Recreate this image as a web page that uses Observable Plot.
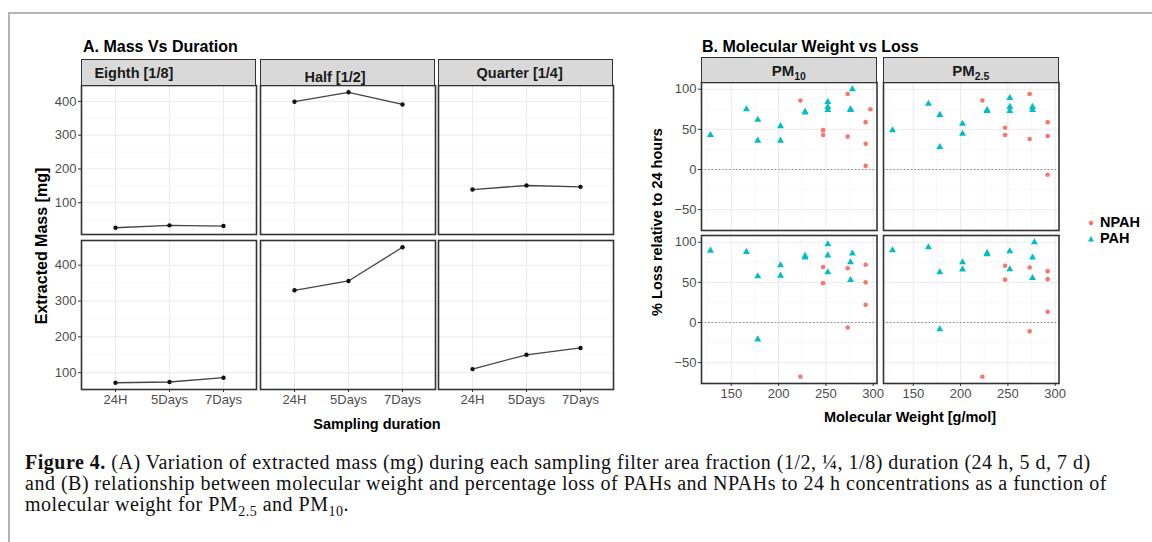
<!DOCTYPE html>
<html>
<head>
<meta charset="utf-8">
<script src="https://cdn.jsdelivr.net/npm/d3@7"></script>
<script src="https://cdn.jsdelivr.net/npm/@observablehq/plot@0.6"></script>
<style>
  html, body { margin: 0; padding: 0; background: #fff; }
  #root { position: relative; width: 1152px; height: 542px; overflow: hidden; background: #fff;
          font-family: "Liberation Sans", Arial, sans-serif; }
  .abs { position: absolute; white-space: nowrap; }
  .title { font-weight: bold; font-size: 16px; color: #000; }
  .strip { position: absolute; box-sizing: border-box; background: #d9d9d9; border: 1.5px solid #333;
           font-weight: bold; font-size: 14.5px; color: #1a1a1a; }
  .strip span { position: absolute; transform: translate(-50%, -50%); white-space: nowrap; }
  .axtitle { font-weight: bold; font-size: 14.5px; color: #000; }
  .rot { transform: translate(-50%, -50%) rotate(-90deg); }
  .ctr { transform: translate(-50%, -50%); }
  .cap { font-family: "Liberation Serif", "Times New Roman", serif; font-size: 20px; letter-spacing: 0.5px;
         line-height: 21px; color: #111; }
  .cap sub { font-size: 70%; line-height: 0; }
  .strip sub { font-size: 70%; line-height: 0; }
  .cell { position: absolute; }
</style>
</head>
<body>
<div id="root"></div>
<script>
// ---------- Data: Panel A (extracted mass, mg) ----------
const durations = ["24H", "5Days", "7Days"];
const fractionLabels = ["Eighth [1/8]", "Half [1/2]", "Quarter [1/4]"];
const eighthRow1 = [26, 33, 31];
const halfRow1 = [399, 427, 391];
const quarterRow1 = [139, 151, 147];
const eighthRow2 = [72, 74, 86];
const halfRow2 = [330, 356, 450];
const quarterRow2 = [110, 150, 169];
const massTicksA = [100, 200, 300, 400];

// ---------- Data: Panel B (% loss relative to 24 h) ----------
const pmLabels = ["PM10", "PM2.5"];
const groups = ["NPAH", "PAH"];
const pahMW  = [128, 166, 178, 178, 202, 202, 228, 228, 252, 252, 252, 276, 276, 278];
const npahMW = [223, 247, 247, 273, 273, 292, 292, 292, 297];
const pahLossPM10Top     = [43, 75, 62, 36, 54, 36, 71, 72, 84, 78, 74, 75, 74, 100];
const npahLossPM10Top    = [86, 49, 43, 94, 41, 59, 32, 4.5, 75];
const pahLossPM25Top     = [49, 82, 68, 28, 57, 44.5, 73, 74, 89, 78, 73, 78, 74, null];
const npahLossPM25Top    = [86, 52, 43, 94, 38, 59, 41.6, -6.5, null];
const pahLossPM10Bottom  = [89.5, 88, 57.6, -21, 71.4, 58.4, 83, 81, 97.5, 83.6, 62.6, 75, 53, 86];
const npahLossPM10Bottom = [-67.6, 69, 49, 67.6, -6.3, 72, 50, 22, null];
const pahLossPM25Bottom  = [90, 93.7, 62.6, -8.4, 75, 66, 86.6, 85, 88.7, 66.4, null, 81, 55.5, 100];
const npahLossPM25Bottom = [-67.6, 70.6, 53.4, 68.5, -11, 64, 54, 13.4, null];
const mwTicks = [150, 200, 250, 300];
const mwMinor = [125, 175, 225, 275];
const lossTicks = [-50, 0, 50, 100];
const lossMinor = [-75, -25, 25, 75];

const colors = {NPAH: "#F8766D", PAH: "#00BFC4"};

// ---------- helpers ----------
const root = document.getElementById("root");
function addDiv(cls, html, style) {
  const d = document.createElement("div");
  d.className = cls;
  d.innerHTML = html;
  Object.assign(d.style, style);
  root.appendChild(d);
  return d;
}
function expand(ext, f = 0.05) {
  const r = ext[1] - ext[0];
  return [ext[0] - r * f, ext[1] + r * f];
}
const tickFont = {fontSize: 13, fill: "#4d4d4d"};

function cell({left, top, w, h, showY, showX, x, y, marks, yTicks, xTicks}) {
  const mL = showY ? 50 : 0, mB = showX ? 26 : 0;
  const allMarks = [...marks, Plot.frame({stroke: "#333", strokeWidth: 1.6})];
  if (showY) allMarks.push(Plot.axisY({ticks: yTicks, tickSize: 3, tickPadding: 2, stroke: "#333", ...tickFont, label: null}));
  if (showX) allMarks.push(Plot.axisX({ticks: xTicks, tickSize: 3, tickPadding: 2, stroke: "#333", ...tickFont, label: null}));
  const p = Plot.plot({
    width: w + mL, height: h + mB,
    marginLeft: mL, marginRight: 0, marginTop: 0, marginBottom: mB,
    x: {...x, axis: null}, y: {...y, axis: null},
    style: {background: "transparent", overflow: "visible", fontFamily: "'Liberation Sans', Arial, sans-serif"},
    marks: allMarks
  });
  const holder = document.createElement("div");
  holder.className = "cell";
  holder.style.left = (left - mL) + "px";
  holder.style.top = top + "px";
  holder.appendChild(p);
  root.appendChild(holder);
}

// frame
addDiv("abs", "", {left: "8px", top: "12px", width: "1160px", height: "540px",
  borderLeft: "2px solid #b4b4b4", borderTop: "2px solid #b4b4b4"});

// ---------- Panel A ----------
addDiv("abs title", "A. Mass Vs Duration", {left: "83px", top: "38px"});
const colLeftA = [81, 259.5, 438];
const wA = 175;
const rowTopA = [85, 240];
const hA = 149;
const stripTextA = [{dx: 0.30, y: 13}, {dx: 0.431, y: 17}, {dx: 0.466, y: 13}];
const rowsA = [[eighthRow1, halfRow1, quarterRow1], [eighthRow2, halfRow2, quarterRow2]];
rowsA.forEach((row, ri) => {
  const all = row.flat();
  const dom = expand(d3.extent(all));
  const minor = d3.range(50, 500, 100).filter(v => v > dom[0] && v < dom[1]);
  row.forEach((vals, ci) => {
    const data = durations.map((d, i) => ({duration: d, mass: vals[i]}));
    cell({
      left: colLeftA[ci], top: rowTopA[ri], w: wA, h: hA,
      showY: ci === 0, showX: ri === 1,
      x: {type: "point", domain: durations, padding: 0.6},
      y: {domain: dom},
      yTicks: massTicksA, xTicks: durations,
      marks: [
        Plot.gridY(minor, {stroke: "#f0f0f0", strokeOpacity: 1, strokeWidth: 0.6}),
        Plot.gridY(massTicksA, {stroke: "#ebebeb", strokeOpacity: 1, strokeWidth: 1}),
        Plot.gridX(durations, {stroke: "#ebebeb", strokeOpacity: 1, strokeWidth: 1}),
        Plot.line(data, {x: "duration", y: "mass", stroke: "#444", strokeWidth: 1.3}),
        Plot.dot(data, {x: "duration", y: "mass", fill: "#111", r: 2.2})
      ]
    });
  });
});
fractionLabels.forEach((lab, ci) => {
  addDiv("strip", `<span style="left:${stripTextA[ci].dx * 100}%;top:${stripTextA[ci].y}px">${lab}</span>`,
    {left: colLeftA[ci] + "px", top: "59px", width: wA + "px", height: "27px"});
});
addDiv("abs axtitle rot", "Extracted Mass [mg]", {left: "42px", top: "246px", fontSize: "16px"});
addDiv("abs axtitle ctr", "Sampling duration", {left: "377px", top: "424px"});

// ---------- Panel B ----------
addDiv("abs title", "B. Molecular Weight vs Loss", {left: "702px", top: "38px"});
const colLeftB = [701, 883];
const wB = 175.5;
const rowTopB = [82, 235];
const hB = 148;
const panelsB = [
  [[pahLossPM10Top, npahLossPM10Top], [pahLossPM25Top, npahLossPM25Top]],
  [[pahLossPM10Bottom, npahLossPM10Bottom], [pahLossPM25Bottom, npahLossPM25Bottom]]
];
const allLoss = panelsB.flat(2).flat().filter(v => v != null);
const lossDomain = expand(d3.extent(allLoss));
const mwDomain = [118.5, 304];
panelsB.forEach((row, ri) => {
  row.forEach(([pahVals, npahVals], ci) => {
    const data = [
      ...npahMW.map((mw, i) => ({mw, loss: npahVals[i], group: "NPAH"})),
      ...pahMW.map((mw, i) => ({mw, loss: pahVals[i], group: "PAH"}))
    ].filter(d => d.loss != null);
    cell({
      left: colLeftB[ci], top: rowTopB[ri], w: wB, h: hB,
      showY: ci === 0, showX: ri === 1,
      x: {domain: mwDomain},
      y: {domain: lossDomain},
      yTicks: lossTicks, xTicks: mwTicks,
      marks: [
        Plot.gridX(mwMinor, {stroke: "#f2f2f2", strokeOpacity: 1, strokeWidth: 0.6}),
        Plot.gridY(lossMinor.filter(v => v > lossDomain[0]), {stroke: "#f2f2f2", strokeOpacity: 1, strokeWidth: 0.6}),
        Plot.gridX(mwTicks, {stroke: "#ebebeb", strokeOpacity: 1, strokeWidth: 1}),
        Plot.gridY(lossTicks, {stroke: "#ebebeb", strokeOpacity: 1, strokeWidth: 1}),
        Plot.ruleY([0], {stroke: "#8c8c8c", strokeWidth: 1, strokeDasharray: "1.5,2"}),
        Plot.dot(data.filter(d => d.group === "NPAH"), {x: "mw", y: "loss", r: 2.3, fill: colors.NPAH, stroke: null, symbol: "circle"}),
        Plot.dot(data.filter(d => d.group === "PAH"), {x: "mw", y: "loss", r: 2.6, fill: colors.PAH, stroke: null, symbol: "triangle"})
      ]
    });
  });
});
addDiv("strip", `<span style="left:50%;top:12px">PM<sub>10</sub></span>`,
  {left: colLeftB[0] + "px", top: "57px", width: wB + "px", height: "26px", fontSize: "15px"});
addDiv("strip", `<span style="left:50%;top:12px">PM<sub>2.5</sub></span>`,
  {left: colLeftB[1] + "px", top: "57px", width: wB + "px", height: "26px", fontSize: "15px"});
addDiv("abs axtitle rot", "% Loss relative to 24 hours", {left: "657px", top: "222px"});
addDiv("abs axtitle ctr", "Molecular Weight [g/mol]", {left: "910px", top: "417px"});

// legend
const legendSyms = {
  NPAH: `<svg width="10" height="10" style="position:absolute;left:-14px;top:4px"><circle cx="5" cy="5" r="2.3" fill="${colors.NPAH}"/></svg>`,
  PAH: `<svg width="10" height="10" style="position:absolute;left:-14px;top:4px"><path d="M5,2 L8,7.5 L2,7.5 Z" fill="${colors.PAH}"/></svg>`
};
groups.forEach((g, i) => {
  addDiv("abs axtitle", legendSyms[g] + g, {left: "1100px", top: (214 + i * 16) + "px"});
});

// ---------- Caption ----------
addDiv("abs cap",
  `<b>Figure 4.</b> (A) Variation of extracted mass (mg) during each sampling filter area fraction (1/2, ¼, 1/8) duration (24 h, 5 d, 7 d)<br>` +
  `and (B) relationship between molecular weight and percentage loss of PAHs and NPAHs to 24 h concentrations as a function of<br>` +
  `molecular weight for PM<sub>2.5</sub> and PM<sub>10</sub>.`,
  {left: "25px", top: "452px"});
</script>
</body>
</html>
